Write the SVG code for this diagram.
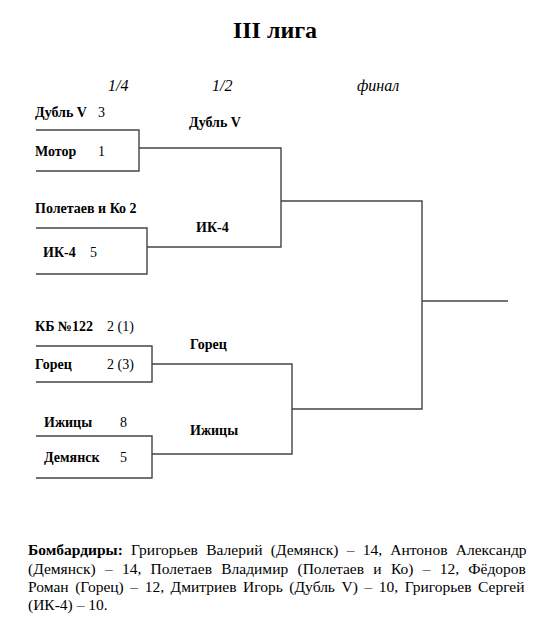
<svg xmlns="http://www.w3.org/2000/svg" width="545" height="624" viewBox="0 0 545 624">
<style>
text{font-family:"Liberation Serif","Times New Roman",serif;fill:#000}
.t{font-size:24px;font-weight:bold}
.h{font-size:16px;font-style:italic}
.b{font-size:14px;font-weight:bold}
.n{font-size:14px}
.f{font-size:15.5px}
.ln{fill:none;stroke:#444;stroke-width:1.4}
</style>
<rect width="545" height="624" fill="#fff"/>
<text class="t" x="275" y="38" text-anchor="middle">III лига</text>
<g id="headers">
<text class="h" x="108" y="91">1/4</text>
<text class="h" x="212" y="91">1/2</text>
<text class="h" x="357" y="91">финал</text>
</g>
<g id="connectors">
<path class="ln" d="M36,130 H139 V171 H36"/>
<path class="ln" d="M139,148 H281 V247 H147"/>
<path class="ln" d="M36,228 H147 V274 H36"/>
<path class="ln" d="M281,201 H422 V409 H292"/>
<path class="ln" d="M422,301 H508"/>
<path class="ln" d="M36,346 H152 V382 H36"/>
<path class="ln" d="M152,364 H292 V454 H152"/>
<path class="ln" d="M36,436 H152 V478 H36"/>
</g>
<g id="qf1">
<text class="b" x="35" y="117">Дубль V</text><text class="n" x="98" y="117">3</text>
<text class="b" x="35" y="156">Мотор</text><text class="n" x="98" y="156">1</text>
</g>
<g id="qf2">
<text class="b" x="35" y="213">Полетаев и Ко  2</text>
<text class="b" x="43" y="257">ИК-4</text><text class="n" x="90" y="257">5</text>
</g>
<g id="qf3">
<text class="b" x="35" y="331">КБ №122</text><text class="n" x="107" y="331">2 (1)</text>
<text class="b" x="35" y="369">Горец</text><text class="n" x="107" y="369">2 (3)</text>
</g>
<g id="qf4">
<text class="b" x="44" y="427">Ижицы</text><text class="n" x="120" y="427">8</text>
<text class="b" x="44" y="462">Демянск</text><text class="n" x="120" y="462">5</text>
</g>
<g id="sf">
<text class="b" x="189" y="127">Дубль V</text>
<text class="b" x="196" y="232">ИК-4</text>
<text class="b" x="190" y="349">Горец</text>
<text class="b" x="190" y="435">Ижицы</text>
</g>
<g id="scorers">
<text class="f" x="28" y="555" word-spacing="4.4"><tspan font-weight="bold">Бомбардиры:</tspan> Григорьев Валерий (Демянск) – 14, Антонов Александр</text>
<text class="f" x="28" y="574" word-spacing="5.4">(Демянск) – 14, Полетаев Владимир (Полетаев и Ко) – 12, Фёдоров</text>
<text class="f" x="28" y="592" word-spacing="2.7">Роман (Горец) – 12, Дмитриев Игорь (Дубль V) – 10, Григорьев Сергей</text>
<text class="f" x="28" y="610">(ИК-4) – 10.</text>
</g>
</svg>
